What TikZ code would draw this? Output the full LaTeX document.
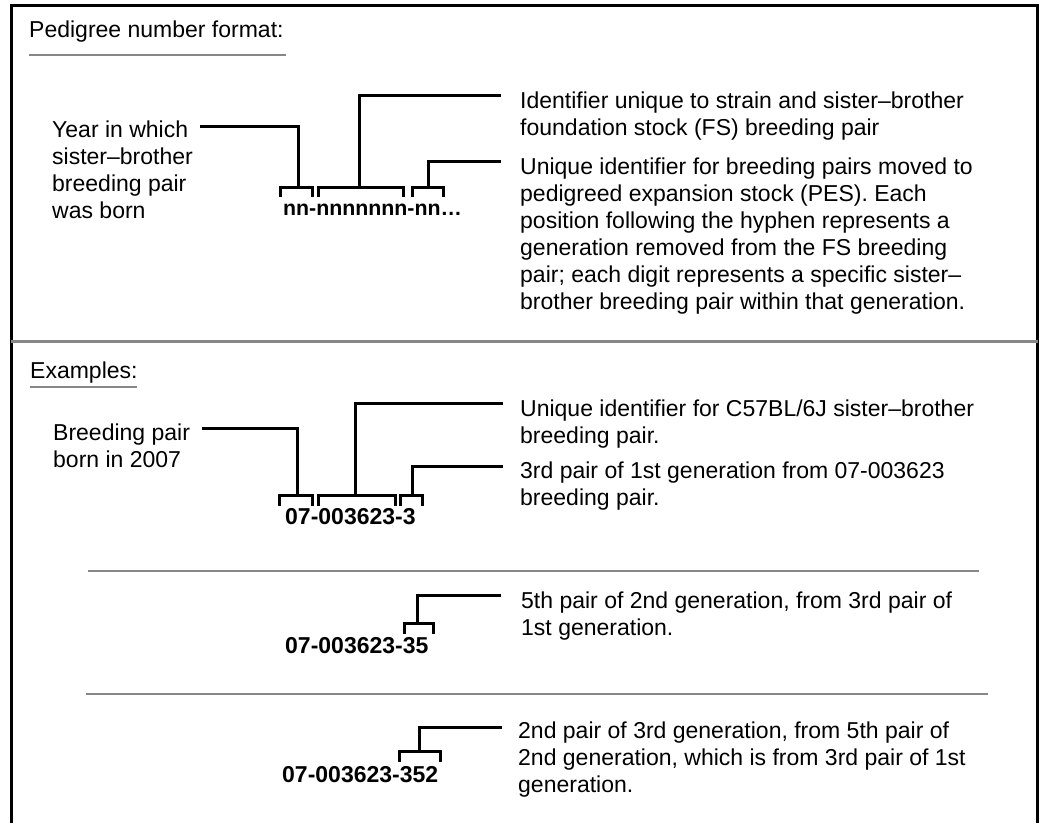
\documentclass[tikz,border=0pt]{standalone}
\usepackage{fontspec}
\setmainfont{Liberation Sans}
\definecolor{sepgray}{RGB}{135,135,135}
\newcommand{\mylines}[1]{\begin{tabular}[t]{@{}l@{}}#1\end{tabular}}
\begin{document}
\begin{tikzpicture}[x=1pt,y=-1pt,
  frame/.style={line width=3pt,black},
  sepline/.style={line width=2.6pt,sepgray},
  conn/.style={line width=3pt,black},
  brk/.style={line width=3pt,black},
  lbl/.style={inner sep=0pt,anchor=base west,font={\fontsize{23}{27}\selectfont}},
  numtxt/.style={inner sep=0pt,anchor=base west,font={\fontsize{23}{27}\selectfont\bfseries}},
  fmttxt/.style={inner sep=0pt,anchor=base west,font={\fontsize{21.3}{27}\selectfont\bfseries}},
]
\useasboundingbox[fill=white] (0,0) rectangle (1040,823);

% frame (open at the bottom)
\draw[frame] (11,823) -- (11,5.5) -- (1037.5,5.5) -- (1037.5,823);
% section separator
\draw[sepline] (11,341.5) -- (1037.5,341.5);

% ---------- Pedigree number format ----------
\node[lbl] (title1) at (29,37) {Pedigree number format:};
\draw[sepline] (29,55) -- (286,55);

\node[lbl] (year) at (52,137) {\mylines{Year in which\\sister–brother\\breeding pair\\was born}};
\node[fmttxt] (fmt) at (283,215) {nn-nnnnnnn-nn…};
\node[lbl] (fsid) at (520,108) {\mylines{Identifier unique to strain and sister–brother\\foundation stock (FS) breeding pair}};
\node[lbl] (pesid) at (520,174) {\mylines{Unique identifier for breeding pairs moved to\\pedigreed expansion stock (PES). Each\\position following the hyphen represents a\\generation removed from the FS breeding\\pair; each digit represents a specific sister–\\brother breeding pair within that generation.}};

% brackets
\draw[brk] (280,197) |- (312,187) -- (312,197);
\draw[brk] (318,197) |- (403,187) -- (403,197);
\draw[brk] (412,197) |- (443,187) -- (443,197);
\coordinate (fb1) at (298,187);
\coordinate (fb2) at (359,187);
\coordinate (fb3) at (428,187);
\coordinate (yearend) at (200,126);
\coordinate (fsend) at (501,95);
\coordinate (pesend) at (501,161);
\draw[conn] (yearend) -| (fb1);
\draw[conn] (fsend) -| (fb2);
\draw[conn] (pesend) -| (fb3);

% ---------- Examples ----------
\node[lbl] (title2) at (30,378) {Examples:};
\draw[sepline] (30,387) -- (137,387);

\node[lbl] (born) at (53,440) {\mylines{Breeding pair\\born in 2007}};
\node[numtxt] (ex1) at (285,524) {07-003623-3};
\node[lbl] (c57) at (520,416) {\mylines{Unique identifier for C57BL/6J sister–brother\\breeding pair.}};
\node[lbl] (gen1) at (520,478) {\mylines{3rd pair of 1st generation from 07-003623\\breeding pair.}};

\draw[brk] (279,506) |- (312,495) -- (312,506);
\draw[brk] (318,506) |- (395,495) -- (395,506);
\draw[brk] (400,506) |- (422,495) -- (422,506);
\coordinate (eb1) at (297,495);
\coordinate (eb2) at (355,495);
\coordinate (eb3) at (412,495);
\coordinate (bornend) at (202,428);
\coordinate (c57end) at (503,403);
\coordinate (gen1end) at (503,466);
\draw[conn] (bornend) -| (eb1);
\draw[conn] (c57end) -| (eb2);
\draw[conn] (gen1end) -| (eb3);

\draw[sepline] (88,571) -- (979,571);

\node[numtxt] (ex2) at (285,653) {07-003623-35};
\node[lbl] (gen2) at (521,608) {\mylines{5th pair of 2nd generation, from 3rd pair of\\1st generation.}};
\draw[brk] (404,634) |- (433,623) -- (433,634);
\coordinate (eb4) at (417,623);
\coordinate (gen2end) at (501,595);
\draw[conn] (gen2end) -| (eb4);

\draw[sepline] (86,694) -- (988,694);

\node[numtxt] (ex3) at (282,782) {07-003623-352};
\node[lbl] (gen3) at (518,738) {\mylines{2nd pair of 3rd generation, from 5th pair of\\2nd generation, which is from 3rd pair of 1st\\generation.}};
\draw[brk] (399,762) |- (440,751) -- (440,762);
\coordinate (eb5) at (419,751);
\coordinate (gen3end) at (502,727);
\draw[conn] (gen3end) -| (eb5);
\end{tikzpicture}
\end{document}
